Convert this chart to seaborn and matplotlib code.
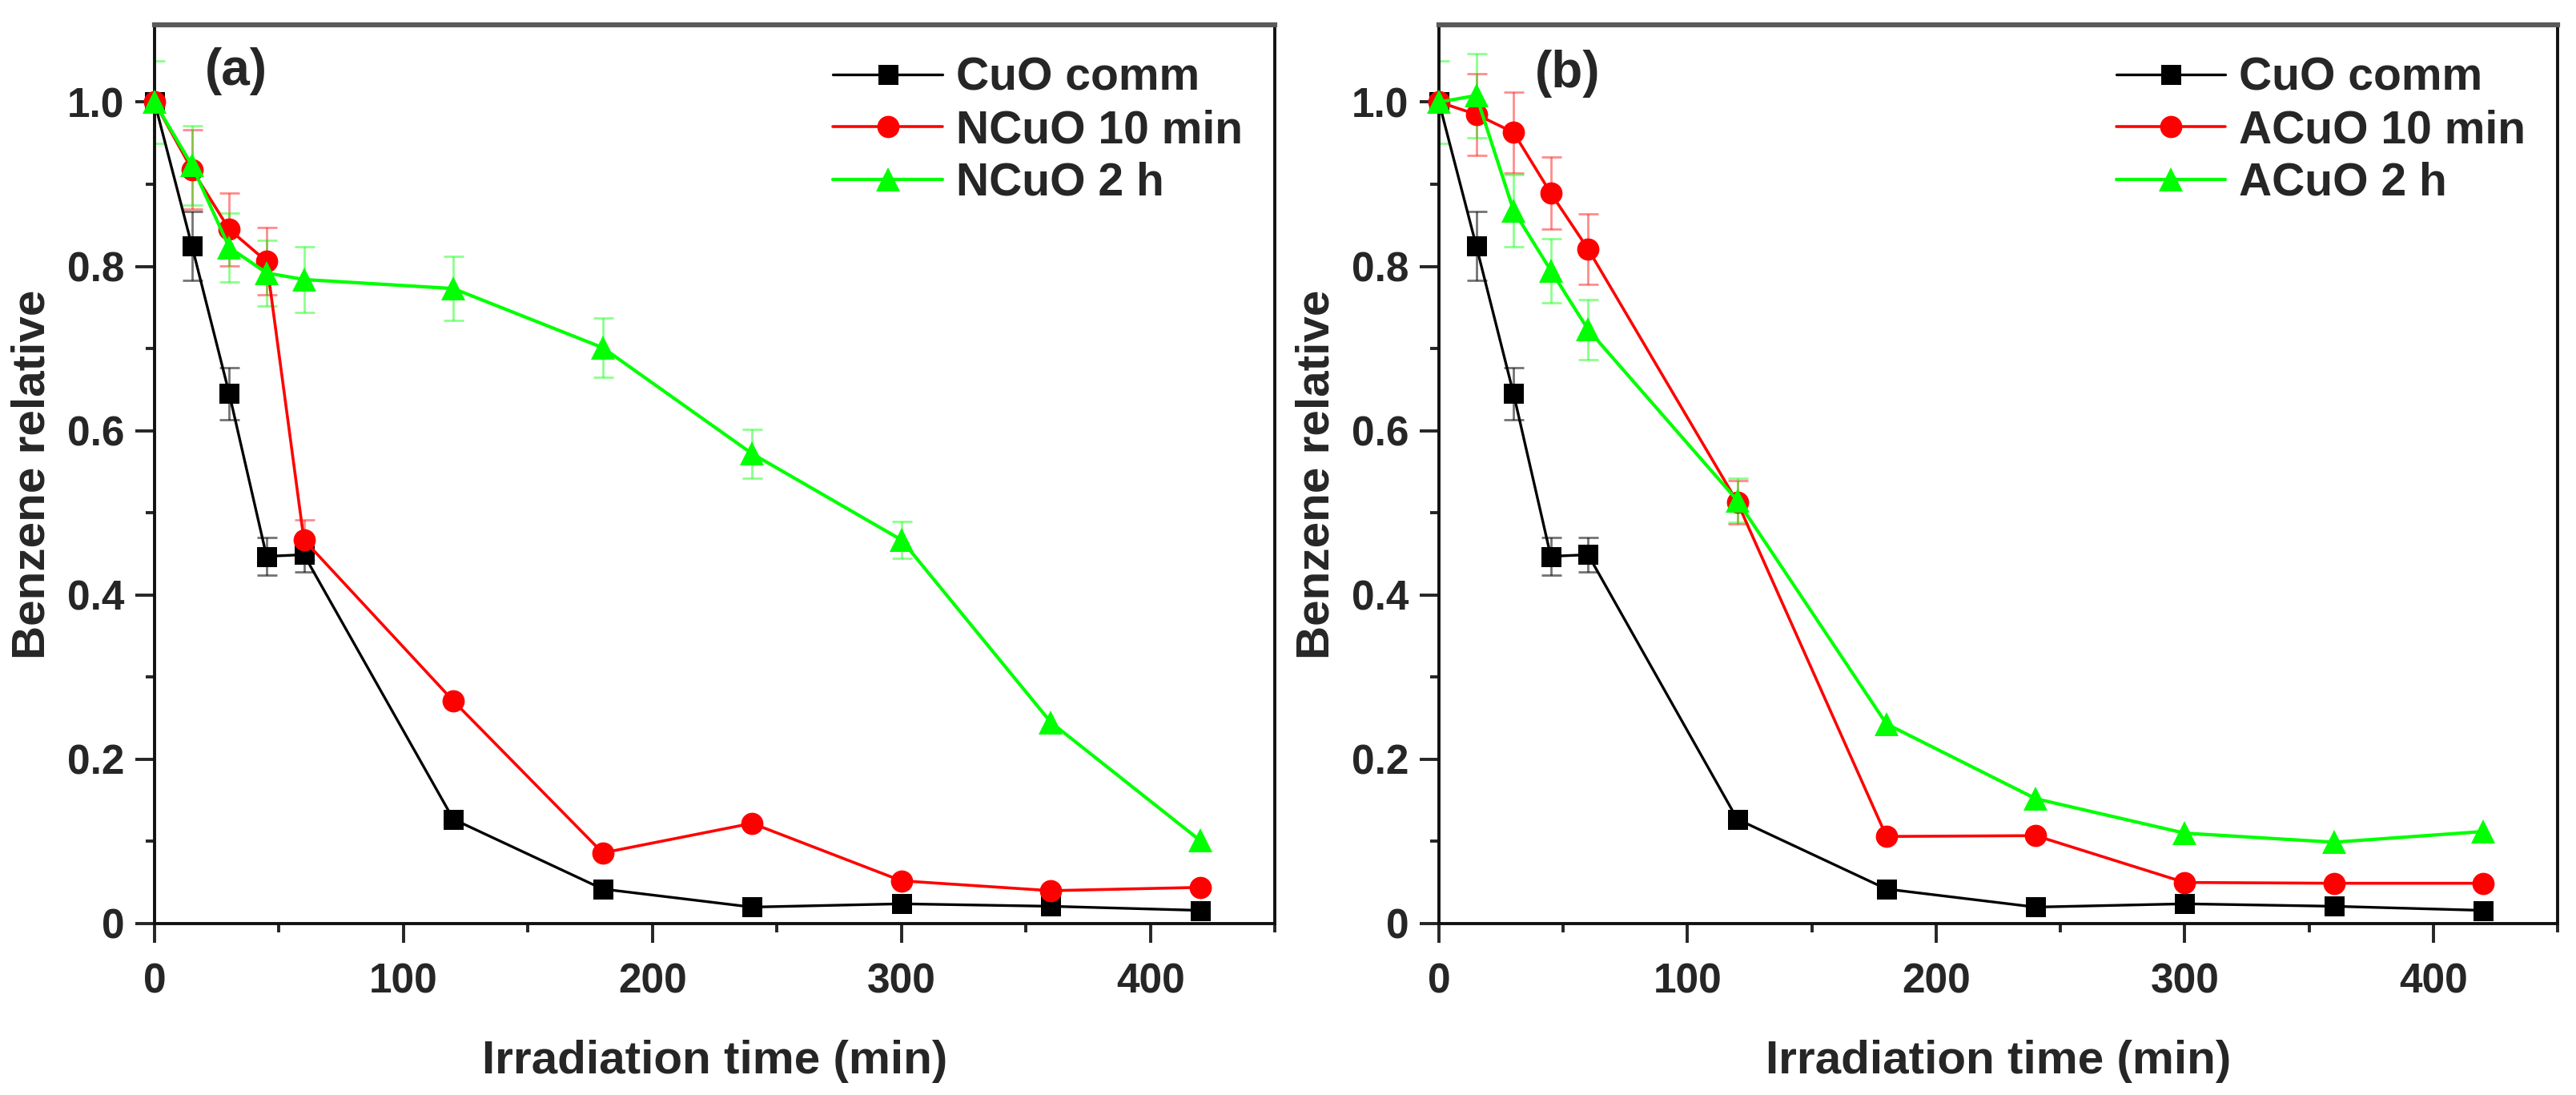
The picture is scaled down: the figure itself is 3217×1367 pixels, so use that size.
import seaborn as sns
import matplotlib.pyplot as plt
import matplotlib.ticker as mticker
import numpy as np

sns.set_style("white")
plt.rcParams['font.family'] = ['Liberation Sans', 'DejaVu Sans']
plt.rcParams['font.weight'] = 'bold'

# tiempos de irradiación (min)
time = [0, 15, 30, 45, 60, 120, 180, 240, 300, 360, 420]

# serie comun a los dos paneles
cuo_comm = [1.0, 0.825, 0.645, 0.447, 0.449, 0.127, 0.042, 0.020, 0.024, 0.021, 0.016]
cuo_comm_err = [0, 0.042, 0.032, 0.023, 0.021, 0, 0, 0, 0, 0, 0]

# panel (a)
ncuo_10 = [1.0, 0.918, 0.845, 0.806, 0.467, 0.271, 0.086, 0.122, 0.052, 0.040, 0.044]
ncuo_10_err = [0, 0.048, 0.044, 0.041, 0.024, 0, 0, 0, 0, 0, 0]
ncuo_2h = [1.0, 0.923, 0.823, 0.792, 0.784, 0.773, 0.701, 0.572, 0.467, 0.245, 0.101]
ncuo_2h_err = [0.05, 0.048, 0.042, 0.040, 0.040, 0.039, 0.036, 0.030, 0.022, 0, 0]

# panel (b)
acuo_10 = [1.0, 0.985, 0.963, 0.889, 0.821, 0.513, 0.106, 0.107, 0.050, 0.049, 0.049]
acuo_10_err = [0, 0.05, 0.049, 0.044, 0.043, 0.026, 0, 0, 0, 0, 0]
acuo_2h = [1.0, 1.008, 0.868, 0.795, 0.723, 0.515, 0.243, 0.152, 0.110, 0.099, 0.112]
acuo_2h_err = [0.05, 0.051, 0.044, 0.039, 0.037, 0.027, 0, 0, 0, 0, 0]

paneles = [
    ("(a)", (0.073, 0.948), [("CuO comm", cuo_comm, cuo_comm_err),
                             ("NCuO 10 min", ncuo_10, ncuo_10_err),
                             ("NCuO 2 h", ncuo_2h, ncuo_2h_err)]),
    ("(b)", (0.115, 0.946), [("CuO comm", cuo_comm, cuo_comm_err),
                             ("ACuO 10 min", acuo_10, acuo_10_err),
                             ("ACuO 2 h", acuo_2h, acuo_2h_err)]),
]

colores = ['#000000', '#FF0000', '#00FF00']
marcadores = ['s', 'o', '^']
tam_marc = [18, 20, 22]
grosor = [2.4, 2.6, 3.0]

fig = plt.figure(figsize=(32.17, 13.67), dpi=100)
ax_pos = [[0.060, 0.1566, 0.4349, 0.8207], [0.5586, 0.1566, 0.4343, 0.8207]]

for k, (letra, pos_letra, series) in enumerate(paneles):
    ax = fig.add_axes(ax_pos[k])
    for i, (nombre, vals, errs) in enumerate(series):
        idx = [j for j in range(len(time)) if errs[j] > 0]
        ax.errorbar([time[j] for j in idx], [vals[j] for j in idx],
                    yerr=[errs[j] for j in idx], fmt='none',
                    ecolor=colores[i], alpha=0.45 if i else 0.55,
                    elinewidth=2.0, capsize=9, capthick=2.0, zorder=1)
        sns.lineplot(x=time, y=vals, ax=ax, color=colores[i], marker=marcadores[i],
                     markersize=tam_marc[i], markeredgewidth=0, linewidth=grosor[i],
                     label=nombre, zorder=3 + i, clip_on=False)

    ax.set_xlim(0, 450)
    ax.set_ylim(0, 1.094)
    ax.xaxis.set_major_locator(mticker.FixedLocator([0, 100, 200, 300, 400]))
    ax.xaxis.set_minor_locator(mticker.MultipleLocator(50))
    ax.yaxis.set_major_locator(mticker.FixedLocator([0, 0.2, 0.4, 0.6, 0.8, 1.0]))
    ax.yaxis.set_minor_locator(mticker.MultipleLocator(0.1))
    ax.yaxis.set_major_formatter(mticker.FuncFormatter(lambda v, p: "0" if v == 0 else f"{v:.1f}"))

    ax.tick_params(axis='both', which='major', direction='out', length=17, width=2.8,
                   labelsize=37, bottom=True, left=True, top=False, right=False)
    ax.tick_params(axis='x', which='major', pad=18)
    ax.tick_params(axis='y', which='major', pad=10)
    ax.tick_params(axis='both', which='minor', direction='out', length=8, width=2.8,
                   bottom=True, left=True, top=False, right=False)

    for lado in ['left', 'bottom', 'right']:
        ax.spines[lado].set_linewidth(2.8)
        ax.spines[lado].set_color('#111111')
    ax.spines['top'].set_linewidth(4.5)
    ax.spines['top'].set_color('#5a5a5a')

    ax.set_xlabel("Irradiation time (min)", fontsize=42, fontweight='bold', labelpad=34)
    ax.set_ylabel("Benzene relative", fontsize=42, fontweight='bold', labelpad=12)

    ax.text(pos_letra[0], pos_letra[1], letra, transform=ax.transAxes, fontsize=46,
            fontweight='bold', ha='center', va='center')

    ax.legend(loc='upper right', bbox_to_anchor=(1.0, 1.0), frameon=False, fontsize=41,
              handlelength=2.4, handletextpad=0.3, labelspacing=0.2, borderaxespad=0.3)

fig.savefig("out.png", dpi=100)
